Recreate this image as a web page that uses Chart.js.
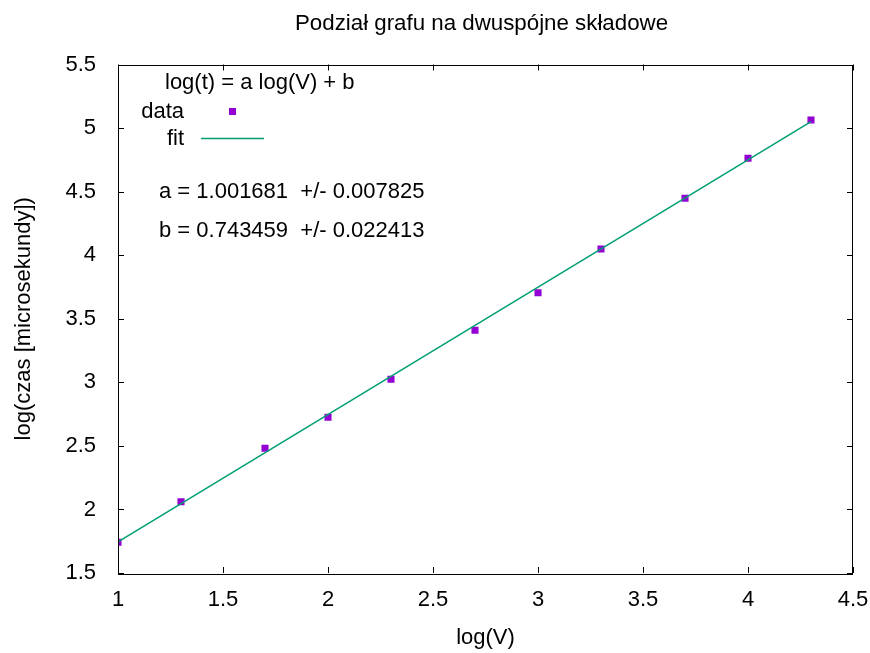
<!DOCTYPE html>
<html>
<head>
<meta charset="utf-8">
<script src="https://cdn.jsdelivr.net/npm/chart.js@4/dist/chart.umd.min.js"></script>
<style>
html,body{margin:0;padding:0;background:#fff;}
#wrap{width:870px;height:653px;position:relative;}
</style>
</head>
<body>
<div id="wrap"><canvas id="c" width="870" height="653"></canvas></div>
<script>
// ---- data ----
const logV = [1, 1.3, 1.7, 2, 2.3, 2.7, 3, 3.3, 3.7, 4, 4.3];
const logT = [1.742, 2.061, 2.481, 2.725, 3.024, 3.410, 3.705, 4.049, 4.448, 4.763, 5.064];
const fitX = [1, 4.3];
const fitY = [1.745, 5.051];
const xTicks = [1, 1.5, 2, 2.5, 3, 3.5, 4, 4.5];
const yTicks = [1.5, 2, 2.5, 3, 3.5, 4, 4.5, 5, 5.5];
const titleText = 'Podział grafu na dwuspójne składowe';
const xTitle = 'log(V)';
const yTitle = 'log(czas [microsekundy])';
const keyTitle = 'log(t) = a log(V) + b';
const seriesNames = ['data', 'fit'];
const paramLabels = ['a = 1.001681  +/- 0.007825', 'b = 0.743459  +/- 0.022413'];

const FONT = '"Liberation Sans", Arial, sans-serif';
const DATA_COLOR = '#9400d3';
const FIT_COLOR = '#009e73';

Chart.defaults.font.family = FONT;
Chart.defaults.font.size = 22;
Chart.defaults.color = '#000';

const decor = {
  id: 'decor',
  afterDraw(chart) {
    const {ctx, chartArea: a, scales} = chart;
    const xs = scales.x, ys = scales.y;
    ctx.save();
    // frame
    ctx.strokeStyle = '#000';
    ctx.lineWidth = 1;
    ctx.strokeRect(Math.round(a.left) + 0.5, Math.round(a.top) + 0.5,
                   Math.round(a.right - a.left) - 1, Math.round(a.bottom - a.top));
    // inward ticks, mirrored
    const TL = 6;
    ctx.beginPath();
    xTicks.forEach(v => {
      const px = Math.round(xs.getPixelForValue(v)) + 0.5;
      ctx.moveTo(px, a.bottom); ctx.lineTo(px, a.bottom - TL);
      ctx.moveTo(px, a.top); ctx.lineTo(px, a.top + TL);
    });
    yTicks.forEach(v => {
      const py = Math.round(ys.getPixelForValue(v)) + 0.5;
      ctx.moveTo(a.left, py); ctx.lineTo(a.left + TL, py);
      ctx.moveTo(a.right, py); ctx.lineTo(a.right - TL, py);
    });
    ctx.stroke();

    // title
    ctx.fillStyle = '#000';
    ctx.font = '22.3px ' + FONT;
    ctx.textAlign = 'center';
    ctx.textBaseline = 'alphabetic';
    ctx.fillText(titleText, 481.5, 29.5);

    // key
    ctx.font = '22px ' + FONT;
    ctx.textAlign = 'left';
    ctx.fillText(keyTitle, a.left + 47, 89);
    ctx.textAlign = 'right';
    ctx.fillText(seriesNames[0], a.left + 66, 118);
    ctx.fillText(seriesNames[1], a.left + 66, 145);
    ctx.fillStyle = DATA_COLOR;
    ctx.fillRect(a.left + 111, 108, 7, 7);
    ctx.strokeStyle = FIT_COLOR;
    ctx.lineWidth = 1.5;
    ctx.beginPath();
    ctx.moveTo(a.left + 83, 138.5); ctx.lineTo(a.left + 146, 138.5);
    ctx.stroke();

    // parameter labels
    ctx.fillStyle = '#000';
    ctx.textAlign = 'left';
    ctx.fillText(paramLabels[0], a.left + 41, 198);
    ctx.fillText(paramLabels[1], a.left + 41, 237);
    ctx.restore();
  }
};

new Chart(document.getElementById('c'), {
  type: 'scatter',
  data: {
    datasets: [
      {
        label: seriesNames[1],
        type: 'line',
        data: fitX.map((x, i) => ({x, y: fitY[i]})),
        borderColor: FIT_COLOR,
        borderWidth: 1.5,
        pointRadius: 0,
        fill: false,
        order: 0
      },
      {
        label: seriesNames[0],
        data: logV.map((x, i) => ({x, y: logT[i]})),
        pointStyle: 'rect',
        pointRadius: 5,
        pointBackgroundColor: DATA_COLOR,
        pointBorderWidth: 0,
        pointBorderColor: DATA_COLOR,
        order: 1
      }
    ]
  },
  options: {
    responsive: false,
    animation: false,
    events: [],
    layout: { padding: { top: 64.5, right: 0, left: 0, bottom: 0 } },
    plugins: { legend: { display: false }, title: { display: false }, tooltip: { enabled: false } },
    scales: {
      x: {
        type: 'linear',
        min: 1, max: 4.5,
        afterBuildTicks: s => { s.ticks = xTicks.map(v => ({value: v})); },
        grid: { display: false, drawTicks: false },
        border: { display: false },
        ticks: { padding: 14, font: { size: 22 }, color: '#000', callback: v => String(v) },
        title: { display: true, text: xTitle, font: { size: 22 }, color: '#000', padding: { top: 0, bottom: 2 } },
        afterFit: s => { s.height = 80; s.paddingRight = 17; s.paddingLeft = 0; }
      },
      y: {
        type: 'linear',
        min: 1.5, max: 5.5,
        afterBuildTicks: s => { s.ticks = yTicks.map(v => ({value: v})); },
        grid: { display: false, drawTicks: false },
        border: { display: false },
        ticks: { padding: 22, font: { size: 22 }, color: '#000', callback: v => String(v) },
        title: { display: true, text: yTitle, font: { size: 22 }, color: '#000', padding: { top: 11, bottom: 0 } },
        afterFit: s => { s.width = 118; s.paddingTop = 0; s.paddingBottom = 0; }
      }
    }
  },
  plugins: [decor]
});
</script>
</body>
</html>
